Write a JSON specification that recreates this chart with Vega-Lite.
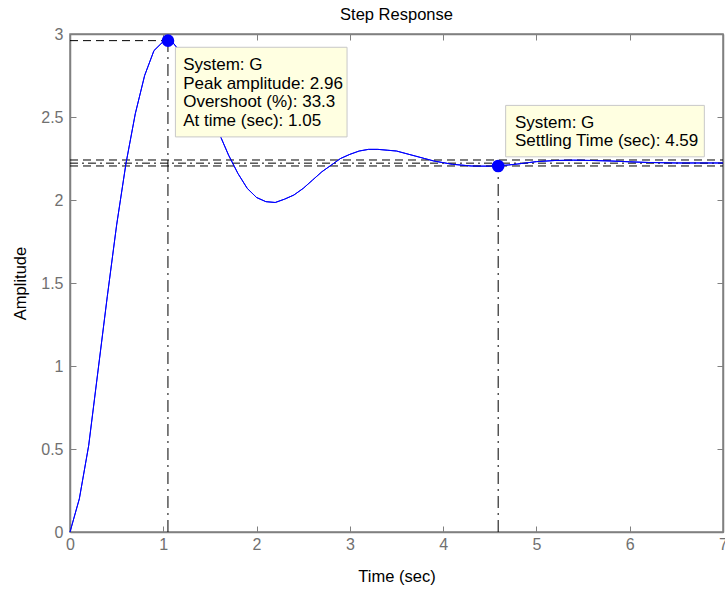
{
  "$schema": "https://vega.github.io/schema/vega-lite/v6.json",
  "width": 653,
  "height": 498,
  "autosize": {"type": "none"},
  "padding": {"left": 70, "top": 34, "right": 2, "bottom": 58},
  "background": "white",
  "title": {"text": "Step Response", "fontSize": 16.5, "font": "Liberation Sans", "fontWeight": "normal", "color": "black", "offset": 3},
  "config": {
    "view": {"stroke": "#808080", "strokeWidth": 1.5},
    "axis": {"grid": false, "domainColor": "#808080", "domainWidth": 1.5, "tickColor": "#808080", "labelColor": "#707070", "labelFont": "Liberation Sans", "labelFontSize": 16, "titleFont": "Liberation Sans", "titleFontSize": 16.5, "titleFontWeight": "normal", "titleColor": "black", "tickSize": -6, "labelFlush": false}
  },
  "datasets": {
    "curve": [
      {"t": 0, "A": 0}, {"t": 0.1, "A": 0.2}, {"t": 0.2, "A": 0.52}, {"t": 0.3, "A": 0.97},
      {"t": 0.4, "A": 1.42}, {"t": 0.5, "A": 1.85}, {"t": 0.6, "A": 2.22}, {"t": 0.7, "A": 2.52},
      {"t": 0.8, "A": 2.75}, {"t": 0.9, "A": 2.9}, {"t": 1.0, "A": 2.955}, {"t": 1.05, "A": 2.96},
      {"t": 1.1, "A": 2.95}, {"t": 1.2, "A": 2.88}, {"t": 1.3, "A": 2.78}, {"t": 1.4, "A": 2.65},
      {"t": 1.5, "A": 2.52}, {"t": 1.6, "A": 2.4}, {"t": 1.7, "A": 2.27}, {"t": 1.8, "A": 2.16},
      {"t": 1.9, "A": 2.07}, {"t": 2.0, "A": 2.015}, {"t": 2.1, "A": 1.99}, {"t": 2.2, "A": 1.985},
      {"t": 2.3, "A": 2.005}, {"t": 2.4, "A": 2.03}, {"t": 2.5, "A": 2.07}, {"t": 2.6, "A": 2.12},
      {"t": 2.7, "A": 2.17}, {"t": 2.8, "A": 2.21}, {"t": 2.9, "A": 2.25}, {"t": 3.0, "A": 2.275},
      {"t": 3.1, "A": 2.295}, {"t": 3.2, "A": 2.305}, {"t": 3.3, "A": 2.305}, {"t": 3.4, "A": 2.3},
      {"t": 3.5, "A": 2.295}, {"t": 3.6, "A": 2.28}, {"t": 3.7, "A": 2.265}, {"t": 3.8, "A": 2.25},
      {"t": 3.9, "A": 2.235}, {"t": 4.0, "A": 2.225}, {"t": 4.1, "A": 2.215}, {"t": 4.2, "A": 2.21},
      {"t": 4.3, "A": 2.205}, {"t": 4.4, "A": 2.204}, {"t": 4.5, "A": 2.204}, {"t": 4.6, "A": 2.206},
      {"t": 4.7, "A": 2.211}, {"t": 4.8, "A": 2.217}, {"t": 4.9, "A": 2.224}, {"t": 5.0, "A": 2.231},
      {"t": 5.2, "A": 2.238}, {"t": 5.4, "A": 2.24}, {"t": 5.6, "A": 2.238}, {"t": 5.8, "A": 2.235},
      {"t": 6.0, "A": 2.23}, {"t": 6.2, "A": 2.226}, {"t": 6.5, "A": 2.223}, {"t": 7.0, "A": 2.223}
    ],
    "hlines": [
      {"x": 0, "x2": 7, "y": 2.241, "style": "dash"},
      {"x": 0, "x2": 7, "y": 2.222, "style": "dashdot"},
      {"x": 0, "x2": 7, "y": 2.205, "style": "dash"},
      {"x": 0, "x2": 1.05, "y": 2.96, "style": "dash"}
    ],
    "vlines": [
      {"x": 1.05, "y": 0, "y2": 2.96},
      {"x": 4.59, "y": 0, "y2": 2.205}
    ],
    "points": [
      {"t": 1.05, "A": 2.96},
      {"t": 4.59, "A": 2.205}
    ],
    "boxes": [
      {"x": 1.13, "x2": 2.97, "y": 2.92, "y2": 2.38},
      {"x": 4.67, "x2": 6.8, "y": 2.57, "y2": 2.26}
    ],
    "labels": [
      {"t": 1.213, "A": 2.813, "label": "System: G"},
      {"t": 1.213, "A": 2.699, "label": "Peak amplitude: 2.96"},
      {"t": 1.213, "A": 2.59, "label": "Overshoot (%): 33.3"},
      {"t": 1.213, "A": 2.476, "label": "At time (sec): 1.05"},
      {"t": 4.77, "A": 2.464, "label": "System: G"},
      {"t": 4.77, "A": 2.355, "label": "Settling Time (sec): 4.59"}
    ]
  },
  "resolve": {"axis": {"x": "independent", "y": "independent"}},
  "layer": [
    {
      "data": {"name": "curve"},
      "mark": {"type": "line", "color": "#0000ff", "strokeWidth": 1},
      "encoding": {
        "x": {"field": "t", "type": "quantitative", "scale": {"domain": [0, 7], "nice": false, "zero": false},
              "axis": {"values": [0, 1, 2, 3, 4, 5, 6, 7], "title": "Time (sec)", "labelPadding": 10, "titlePadding": 16, "format": "~g"}},
        "y": {"field": "A", "type": "quantitative", "scale": {"domain": [0, 3], "nice": false, "zero": false},
              "axis": {"values": [0, 0.5, 1, 1.5, 2, 2.5, 3], "title": "Amplitude", "labelPadding": 13, "titlePadding": 12, "format": "~g"}}
      }
    },
    {
      "data": {"name": "hlines"},
      "mark": {"type": "rule", "color": "black", "strokeWidth": 1},
      "encoding": {
        "x": {"field": "x", "type": "quantitative", "axis": null},
        "x2": {"field": "x2"},
        "y": {"field": "y", "type": "quantitative", "axis": null},
        "strokeDash": {"field": "style", "type": "nominal", "legend": null,
                       "scale": {"domain": ["dash", "dashdot"], "range": [[8, 5], [8, 4, 2, 4]]}}
      }
    },
    {
      "data": {"name": "vlines"},
      "mark": {"type": "rule", "color": "black", "strokeWidth": 1, "strokeDash": [12, 5, 2, 5]},
      "encoding": {
        "x": {"field": "x", "type": "quantitative", "axis": null},
        "y": {"field": "y", "type": "quantitative", "axis": null},
        "y2": {"field": "y2"}
      }
    },
    {
      "data": {"name": "curve"},
      "mark": {"type": "line", "color": "#0000ff", "strokeWidth": 1},
      "encoding": {
        "x": {"field": "t", "type": "quantitative", "axis": null},
        "y": {"field": "A", "type": "quantitative", "axis": null}
      }
    },
    {
      "data": {"name": "points"},
      "mark": {"type": "point", "filled": true, "color": "#0000ff", "size": 160, "opacity": 1},
      "encoding": {
        "x": {"field": "t", "type": "quantitative", "axis": null},
        "y": {"field": "A", "type": "quantitative", "axis": null}
      }
    },
    {
      "data": {"name": "boxes"},
      "mark": {"type": "rect", "fill": "#ffffe1", "stroke": "#c8c8c8", "strokeWidth": 1},
      "encoding": {
        "x": {"field": "x", "type": "quantitative", "axis": null},
        "x2": {"field": "x2"},
        "y": {"field": "y", "type": "quantitative", "axis": null},
        "y2": {"field": "y2"}
      }
    },
    {
      "data": {"name": "labels"},
      "mark": {"type": "text", "align": "left", "baseline": "middle", "font": "Liberation Sans", "fontSize": 17, "color": "black"},
      "encoding": {
        "x": {"field": "t", "type": "quantitative", "axis": null},
        "y": {"field": "A", "type": "quantitative", "axis": null},
        "text": {"field": "label"}
      }
    },
    {
      "data": {"name": "points"},
      "mark": {"type": "point", "opacity": 0},
      "encoding": {
        "x": {"field": "t", "type": "quantitative",
              "axis": {"orient": "top", "values": [0, 1, 2, 3, 4, 5, 6, 7], "labels": false, "title": null, "domain": true}},
        "y": {"field": "A", "type": "quantitative",
              "axis": {"orient": "right", "values": [0, 0.5, 1, 1.5, 2, 2.5, 3], "labels": false, "title": null, "domain": true}}
      }
    }
  ]
}
